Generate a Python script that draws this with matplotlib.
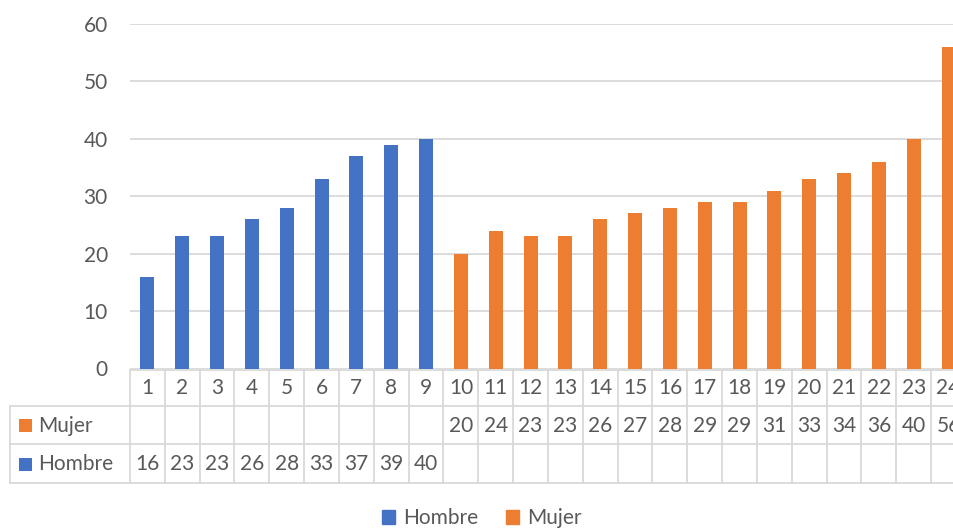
import matplotlib
matplotlib.use("Agg")
import matplotlib.pyplot as plt
import matplotlib.transforms as mtransforms
import numpy as np

plt.rcParams['font.family'] = ['Lato', 'DejaVu Sans']

# data
categories = ["1", "2", "3", "4", "5", "6", "7", "8", "9", "10", "11", "12",
              "13", "14", "15", "16", "17", "18", "19", "20", "21", "22", "23", "24"]
hombre = [16, 23, 23, 26, 28, 33, 37, 39, 40,
          None, None, None, None, None, None, None, None, None, None, None, None, None, None, None]
mujer = [None, None, None, None, None, None, None, None, None,
         20, 24, 23, 23, 26, 27, 28, 29, 29, 31, 33, 34, 36, 40, 56]
series_names = ["Hombre", "Mujer"]
yticks = [0, 10, 20, 30, 40, 50, 60]

blue = "#4472C4"
orange = "#ED7D31"
grey_txt = "#595959"
grid_col = "#D9D9D9"
fs = 15

W, H = 954, 529
fig = plt.figure(figsize=(W / 100, H / 100), dpi=100)


def fy(py):
    # pixel row -> figure fraction
    return (H - py) / H


def fx(px):
    return px / W


ax_left, ax_right, ax_top, ax_bot = 130, 966, 24, 368.5
ax = fig.add_axes([fx(ax_left), fy(ax_bot), (ax_right - ax_left) / W, (ax_bot - ax_top) / H])

x = np.arange(len(categories))
h_vals = np.array([np.nan if v is None else v for v in hombre], dtype=float)
m_vals = np.array([np.nan if v is None else v for v in mujer], dtype=float)

ax.bar(x, h_vals, width=0.4, color=blue, zorder=3)
ax.bar(x, m_vals, width=0.4, color=orange, zorder=3)

ax.set_xlim(-0.5, len(categories) - 0.5)
ax.set_ylim(0, 60)
ax.set_yticks(yticks)
ax.set_xticks([])
ax.yaxis.grid(True, color=grid_col, linewidth=1.3)
ax.set_axisbelow(True)
ax.tick_params(axis='y', length=0, pad=16, labelsize=fs, labelcolor=grey_txt)
for s in ax.spines.values():
    s.set_visible(False)

# data table under the axis
blend = mtransforms.blended_transform_factory(ax.transData, fig.transFigure)
row_top, row1, row2, row_bot = 369.5, 405.7, 444.3, 482.7
lw = 1.3

# horizontal lines
ax.plot([-0.5, len(categories) - 0.5], [fy(row_top)] * 2, color=grid_col, lw=lw,
        transform=blend, clip_on=False)
for py in [row1, row2, row_bot]:
    fig.add_artist(plt.Line2D([fx(10), 1.05], [fy(py)] * 2, color=grid_col, lw=lw))
# vertical lines
for i in range(len(categories) + 1):
    ax.plot([i - 0.5] * 2, [fy(row_top), fy(row_bot)], color=grid_col, lw=lw,
            transform=blend, clip_on=False)
fig.add_artist(plt.Line2D([fx(10)] * 2, [fy(row1), fy(row_bot)], color=grid_col, lw=lw))

# cell texts
for i, lab in enumerate(categories):
    ax.text(i, fy(388), lab, transform=blend, ha='center', va='center',
            fontsize=fs, color=grey_txt, clip_on=False)
    if mujer[i] is not None:
        ax.text(i, fy(425.5), str(mujer[i]), transform=blend, ha='center', va='center',
                fontsize=fs, color=grey_txt, clip_on=False)
    if hombre[i] is not None:
        ax.text(i, fy(464), str(hombre[i]), transform=blend, ha='center', va='center',
                fontsize=fs, color=grey_txt, clip_on=False)

# row headers with colour keys
for name, col, py in [("Mujer", orange, 425.5), ("Hombre", blue, 464)]:
    fig.add_artist(plt.Rectangle((fx(19.5), fy(py + 6.5)), 13 / W, 13 / H,
                                 facecolor=col, edgecolor='none'))
    fig.text(fx(38), fy(py), name, ha='left', va='center', fontsize=fs, color=grey_txt)

# legend
handles = [plt.Rectangle((0, 0), 1, 1, color=blue), plt.Rectangle((0, 0), 1, 1, color=orange)]
fig.legend(handles, series_names, loc='center', bbox_to_anchor=(0.505, fy(518)), ncol=2,
           frameon=False, fontsize=fs, labelcolor=grey_txt, handlelength=0.65,
           handleheight=0.65, handletextpad=0.4, columnspacing=1.3)

fig.savefig("out.png", dpi=100)
